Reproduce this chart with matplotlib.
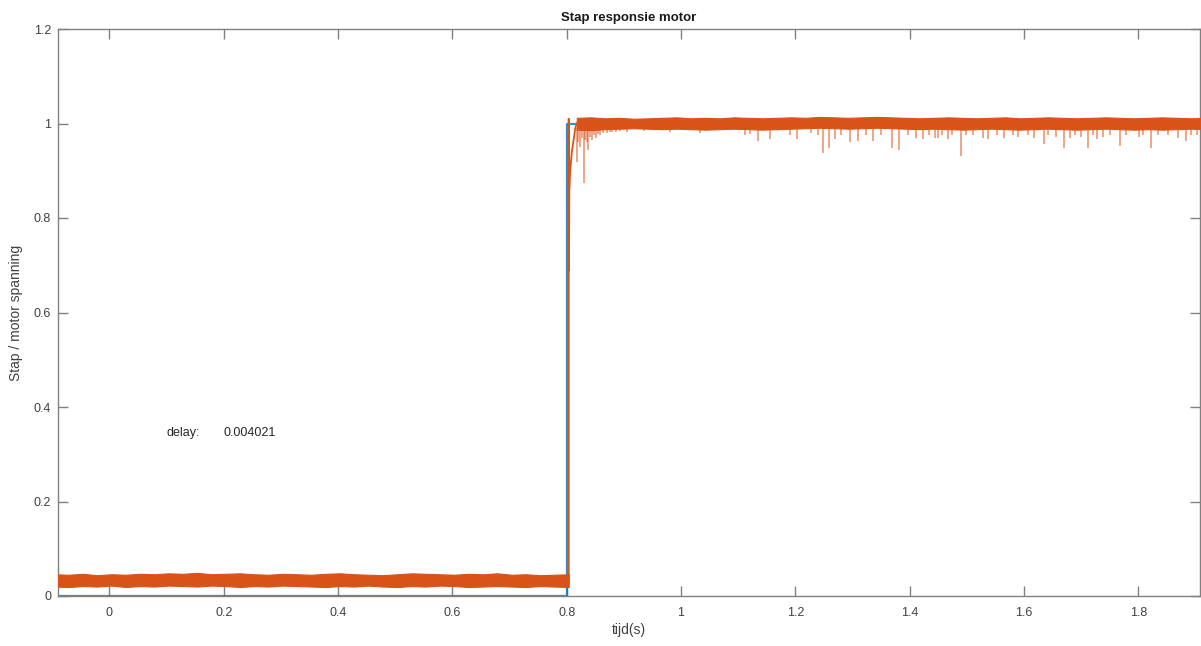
import numpy as np
import matplotlib
matplotlib.use("Agg")
import matplotlib.pyplot as plt

plt.rcParams['font.family'] = ['Liberation Sans', 'DejaVu Sans']

# ---- data ----
step_t = [-0.2, 0.8, 0.8, 2.0]
step_y = [0.0, 0.0, 1.0, 1.0]

# baseline noise band of the motor voltage (before the step)
base_upper = [0.046, 0.045, 0.047, 0.044, 0.046, 0.045, 0.047, 0.046, 0.048, 0.047,
              0.049, 0.046, 0.047, 0.048, 0.046, 0.045, 0.047, 0.046, 0.045, 0.047,
              0.048, 0.046, 0.045, 0.044, 0.046, 0.048, 0.047, 0.046, 0.045, 0.047,
              0.046, 0.048, 0.045, 0.046, 0.044, 0.045, 0.046]
base_lower = [0.020, 0.019, 0.021, 0.020, 0.022, 0.019, 0.021, 0.020, 0.022, 0.021,
              0.020, 0.022, 0.021, 0.019, 0.021, 0.020, 0.022, 0.021, 0.020, 0.019,
              0.021, 0.020, 0.022, 0.020, 0.019, 0.021, 0.020, 0.022, 0.021, 0.019,
              0.020, 0.021, 0.020, 0.019, 0.021, 0.020, 0.019]

# noise band after the step
top_upper = [1.012, 1.013, 1.011, 1.012, 1.010, 1.011, 1.012, 1.013, 1.011, 1.012,
             1.011, 1.013, 1.012, 1.011, 1.012, 1.013, 1.012, 1.014, 1.013, 1.012,
             1.013, 1.014, 1.013, 1.012, 1.011, 1.012, 1.013, 1.012, 1.011, 1.012,
             1.013, 1.011, 1.012, 1.013, 1.012, 1.011, 1.012, 1.013, 1.012, 1.011,
             1.012, 1.013, 1.012, 1.011, 1.012]
top_lower = [0.987, 0.986, 0.988, 0.989, 0.990, 0.989, 0.988, 0.989, 0.988, 0.987,
             0.988, 0.989, 0.988, 0.987, 0.988, 0.989, 0.990, 0.991, 0.990, 0.989,
             0.990, 0.991, 0.990, 0.989, 0.988, 0.989, 0.988, 0.987, 0.988, 0.989,
             0.988, 0.987, 0.988, 0.989, 0.988, 0.987, 0.988, 0.989, 0.988, 0.987,
             0.988, 0.987, 0.988, 0.989, 0.988]

# transient right after the step
trans_t = [0.8035, 0.8035, 0.8040, 0.8045, 0.8050, 0.8060, 0.8090, 0.8120, 0.8150, 0.8175]
trans_y = [0.030, 1.010, 0.690, 0.860, 0.870, 0.900, 0.940, 0.965, 0.990, 1.000]

# downward spikes (time, minimum value)
dip_t = [0.8175, 0.8200, 0.8227, 0.8260, 0.8297, 0.8320, 0.835, 0.838, 0.841, 0.8437,
         0.847, 0.851, 0.855, 0.859, 0.864, 0.870, 0.875, 0.879, 0.886, 0.893,
         0.905, 0.935, 0.980,
         1.034, 1.111, 1.121, 1.134, 1.156, 1.191, 1.202,
         1.228, 1.240, 1.249, 1.258, 1.270, 1.279, 1.296, 1.310, 1.324, 1.336,
         1.350, 1.369, 1.382, 1.397, 1.411, 1.424, 1.434,
         1.445, 1.450, 1.457, 1.467, 1.474, 1.490, 1.499, 1.511, 1.528, 1.537,
         1.553, 1.565, 1.581, 1.590, 1.607, 1.617, 1.635, 1.642, 1.656,
         1.670, 1.680, 1.689, 1.700, 1.712, 1.721, 1.728, 1.738, 1.750, 1.768,
         1.778, 1.801, 1.808, 1.822, 1.834, 1.852, 1.869, 1.883, 1.892, 1.902]
dip_y = [0.918, 0.960, 0.950, 0.970, 0.875, 0.965, 0.960, 0.943, 0.972, 0.965,
         0.975, 0.970, 0.978, 0.975, 0.980, 0.980, 0.982, 0.982, 0.983, 0.984,
         0.983, 0.984, 0.982,
         0.979, 0.975, 0.977, 0.964, 0.968, 0.975, 0.968,
         0.979, 0.975, 0.937, 0.949, 0.968, 0.975, 0.960, 0.964, 0.975, 0.964,
         0.975, 0.949, 0.943, 0.975, 0.970, 0.968, 0.975,
         0.970, 0.970, 0.975, 0.968, 0.975, 0.932, 0.975, 0.975, 0.970, 0.968,
         0.975, 0.970, 0.975, 0.972, 0.975, 0.970, 0.956, 0.975, 0.972,
         0.949, 0.970, 0.975, 0.972, 0.949, 0.975, 0.968, 0.972, 0.975, 0.953,
         0.975, 0.972, 0.975, 0.949, 0.975, 0.975, 0.970, 0.964, 0.975, 0.975]

x_ticks = [0, 0.2, 0.4, 0.6, 0.8, 1.0, 1.2, 1.4, 1.6, 1.8]
x_tick_labels = ['0', '0.2', '0.4', '0.6', '0.8', '1', '1.2', '1.4', '1.6', '1.8']
y_ticks = [0, 0.2, 0.4, 0.6, 0.8, 1.0, 1.2]
y_tick_labels = ['0', '0.2', '0.4', '0.6', '0.8', '1', '1.2']

delay_value = 0.004021

# ---- plot ----
BLUE = '#0072BD'
ORANGE = '#D95319'
AX = '#808080'

fig = plt.figure(figsize=(12.01, 6.46), dpi=100)
ax = fig.add_axes([58 / 1201, 50 / 646, 1141.5 / 1201, 567 / 646])

ax.plot(step_t, step_y, color=BLUE, lw=1.6, zorder=2, alpha=0.8)

base_t = np.linspace(-0.0965, 0.8035, len(base_upper))
top_t = np.linspace(0.8175, 1.9175, len(top_upper))
ax.fill_between(base_t, base_lower, base_upper, color=ORANGE, lw=0.8, edgecolor=ORANGE, zorder=3)
ax.fill_between(top_t, top_lower, top_upper, color=ORANGE, lw=0.8, edgecolor=ORANGE, zorder=3)
ax.plot(trans_t, trans_y, color=ORANGE, lw=1.3, zorder=3)
ax.vlines(dip_t, 0.99, dip_y, color=ORANGE, lw=1.1, alpha=0.65, zorder=3)

ax.set_xlim(-0.09, 1.907)
ax.set_ylim(0, 1.2)
ax.set_xticks(x_ticks)
ax.set_xticklabels(x_tick_labels)
ax.set_yticks(y_ticks)
ax.set_yticklabels(y_tick_labels)
ax.tick_params(direction='in', length=7, width=1, colors=AX, labelcolor='#404040',
               labelsize=9, top=True, right=True)
ax.tick_params(axis='x', pad=8)
ax.tick_params(axis='y', pad=5)
for s in ax.spines.values():
    s.set_color(AX)
    s.set_linewidth(1)

ax.set_title('Stap responsie motor', fontsize=9.5, fontweight='bold', color='#1a1a1a', pad=6)
ax.set_xlabel('tijd(s)', fontsize=10, color='#404040', labelpad=3)
ax.set_ylabel('Stap / motor spanning', fontsize=10, color='#404040', labelpad=8)

ax.text(0.1, 0.345, 'delay:', fontsize=9, color='#262626', va='center', ha='left')
ax.text(0.2, 0.345, f'{delay_value:.6f}', fontsize=9, color='#262626', va='center', ha='left')

fig.savefig('out.png', dpi=100)
